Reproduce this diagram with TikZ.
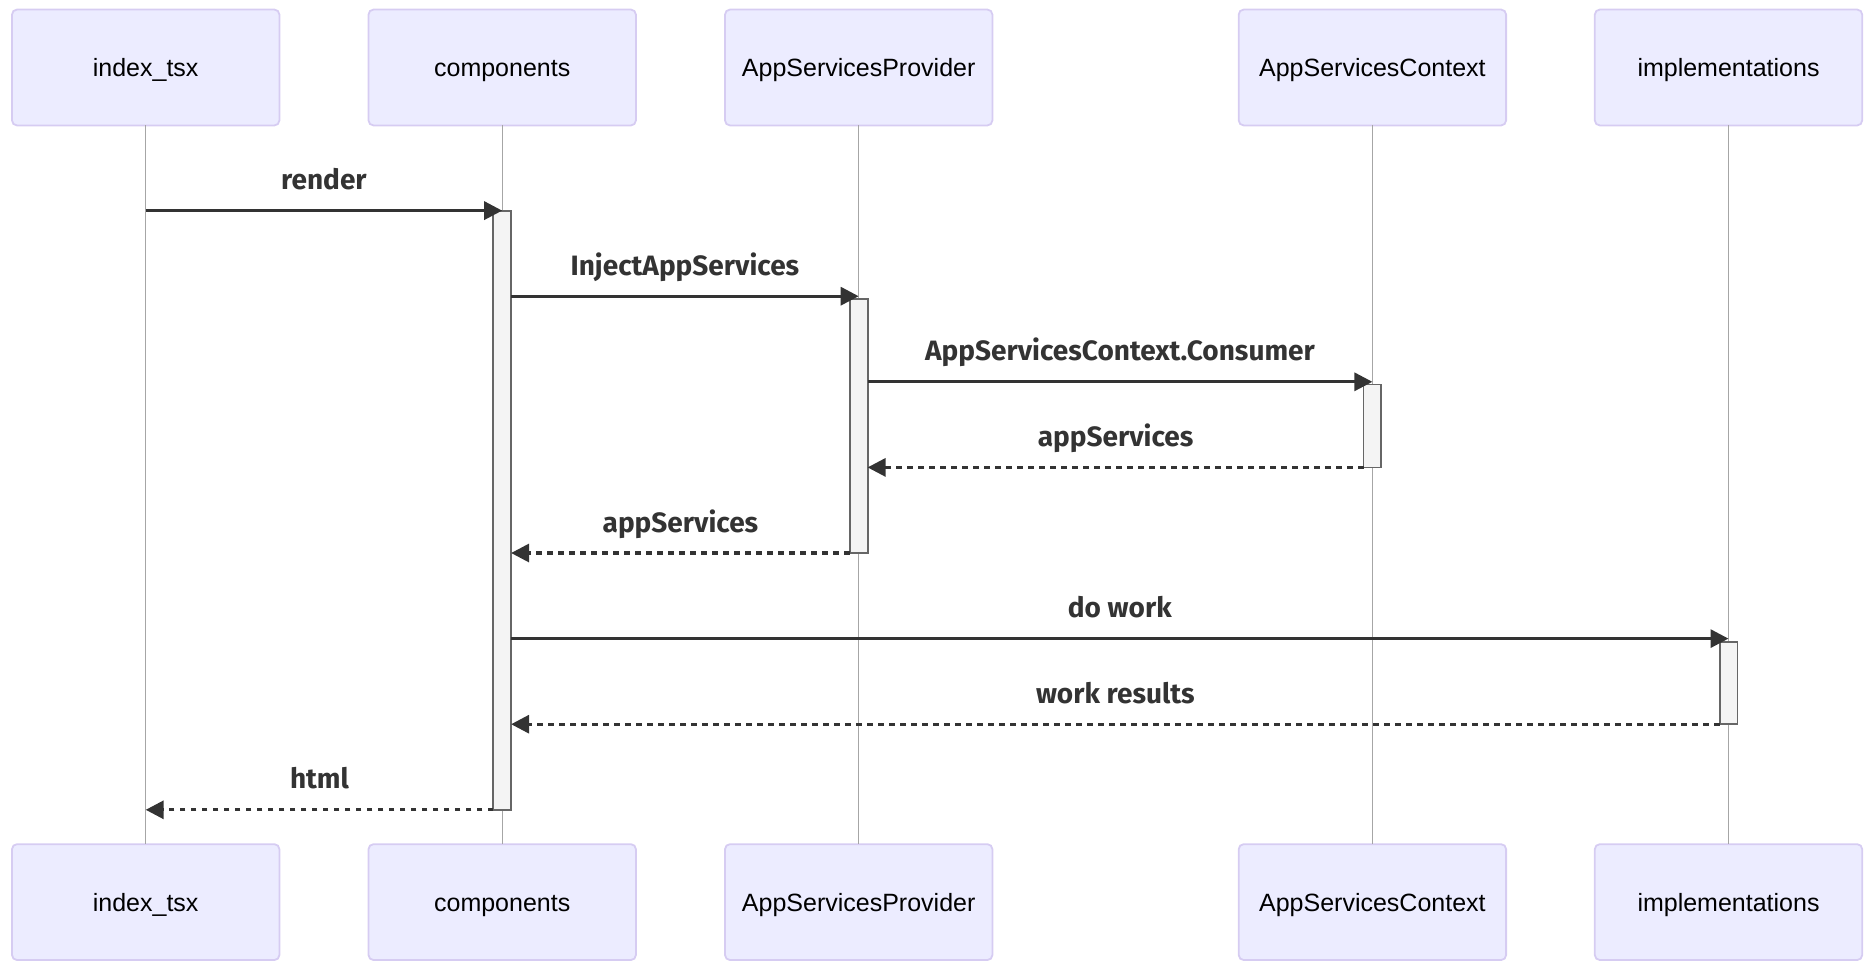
\documentclass[tikz,border=0pt]{standalone}
\usepackage{fontspec}
\setmainfont{Liberation Sans}
\newfontfamily\msgfont{Fira Sans}
\usetikzlibrary{arrows.meta}
\definecolor{actorfill}{HTML}{ECECFF}
\definecolor{actorline}{HTML}{D6CCF2}
\definecolor{lifeline}{HTML}{A6A6A6}
\definecolor{actfill}{HTML}{F4F4F4}
\definecolor{actline}{HTML}{666666}
\definecolor{msgline}{HTML}{333333}

\begin{document}
\begin{tikzpicture}[x=1pt,y=-1pt,
    actor/.style={draw=actorline,fill=actorfill,line width=1.8pt,rounded corners=5pt,
      minimum width=267.4pt,minimum height=115.9pt,inner sep=0pt,outer sep=0pt,
      text height=18pt,text depth=0pt,font=\fontsize{25}{30}\selectfont},
    life/.style={draw=lifeline,line width=1.2pt},
    act/.style={draw=actline,fill=actfill,line width=1.8pt,minimum width=17.8pt,
      inner sep=0pt,outer sep=0pt},
    call/.style={draw=msgline,line width=3.2pt,-{Triangle[length=18pt,width=18pt]}},
    reply/.style={call,dash pattern=on 5.5pt off 5.5pt},
    lbl/.style={midway,anchor=base,yshift=21pt,text=msgline,
      font=\msgfont\bfseries\fontsize{28}{34}\selectfont}]
    \useasboundingbox (0,0) rectangle (1876,970);

    % participants, top row
    \node[actor] (tsx)  at (145.7,67.5)  {index\_tsx};
    \node[actor] (comp) at (502.2,67.5)  {components};
    \node[actor] (prov) at (858.7,67.5)  {AppServicesProvider};
    \node[actor] (ctx)  at (1372.4,67.5) {AppServicesContext};
    \node[actor] (impl) at (1728.5,67.5) {implementations};

    % participants, bottom row
    \node[actor] (tsxB)  at (145.7,902.1)  {index\_tsx};
    \node[actor] (compB) at (502.2,902.1)  {components};
    \node[actor] (provB) at (858.7,902.1)  {AppServicesProvider};
    \node[actor] (ctxB)  at (1372.4,902.1) {AppServicesContext};
    \node[actor] (implB) at (1728.5,902.1) {implementations};

    \draw[life] (tsx) -- (tsxB);
    \draw[life] (comp) -- (compB);
    \draw[life] (prov) -- (provB);
    \draw[life] (ctx) -- (ctxB);
    \draw[life] (impl) -- (implB);

    % activations
    \node[act,minimum height=598.8pt] (actComp) at (502.2,510.4) {};
    \node[act,minimum height=254pt]   (actProv) at (858.7,426)   {};
    \node[act,minimum height=82.9pt]  (actCtx)  at (1372.4,426)  {};
    \node[act,minimum height=82.5pt]  (actImpl) at (1728.5,683)  {};

    \coordinate (m1) at (0,210.6);
    \coordinate (m2) at (0,296.2);
    \coordinate (m3) at (0,381.8);
    \coordinate (m4) at (0,467.4);
    \coordinate (m5) at (0,553.0);
    \coordinate (m6) at (0,638.6);
    \coordinate (m7) at (0,724.2);
    \coordinate (m8) at (0,809.8);

    \draw[call]  (tsx |- m1) -- (comp |- m1) node[lbl] {render};
    \draw[call]  (actComp.east |- m2) -- (prov |- m2) node[lbl] {InjectAppServices};
    \draw[call]  (actProv.east |- m3) -- (ctx |- m3) node[lbl] {AppServicesContext.Consumer};
    \draw[reply] (actCtx.west |- m4) -- (actProv.east |- m4) node[lbl] {appServices};
    \draw[reply] (actProv.west |- m5) -- (actComp.east |- m5) node[lbl] {appServices};
    \draw[call]  (actComp.east |- m6) -- (impl |- m6) node[lbl] {do work};
    \draw[reply] (actImpl.west |- m7) -- (actComp.east |- m7) node[lbl] {work results};
    \draw[reply] (actComp.west |- m8) -- (tsx |- m8) node[lbl] {html};
\end{tikzpicture}
\end{document}
